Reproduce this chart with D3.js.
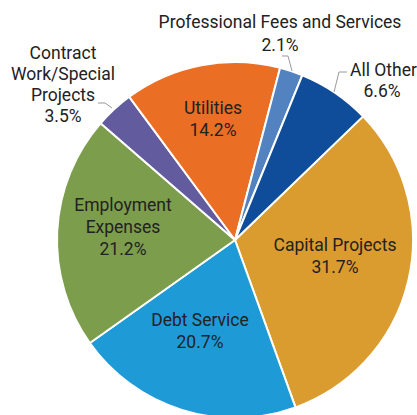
<!DOCTYPE html>
<html><head><meta charset="utf-8">
<script src="https://cdn.jsdelivr.net/npm/d3@7"></script>
<style>body{margin:0;background:#fff}svg{display:block}text{font-family:Roboto,"Noto Sans",sans-serif;fill:#222}</style>
</head><body>
<svg id="c" width="417" height="415"></svg>
<script>
const categories = ["Capital Projects","Debt Service","Employment Expenses","Contract Work/Special Projects","Utilities","Professional Fees and Services","All Other"];
const values = [31.7, 20.7, 21.2, 3.5, 14.2, 2.1, 6.6];
const labelText = [["Capital Projects"],["Debt Service"],["Employment","Expenses"],["Contract","Work/Special","Projects"],["Utilities"],["Professional Fees and Services"],["All Other"]];
const colors = ["#DA9C2F","#1E9BD7","#7C9D4B","#625C9F","#EA6E23","#5283C0","#0F4C9A"];

const svg = d3.select("#c");
const cx = 235, cy = 240, R = 178;
const g = svg.append("g").attr("transform",`translate(${cx},${cy})`);
const start = 46*Math.PI/180;
const pie = d3.pie().sort(null).value(d=>d).startAngle(start).endAngle(start+2*Math.PI);
const arcs = pie(values);
const arc = d3.arc().innerRadius(0).outerRadius(R);
g.selectAll("path.s").data(arcs).join("path").attr("class","s")
  .attr("d",arc).attr("fill",(d,i)=>colors[i]).attr("stroke","#fff").attr("stroke-width",2).attr("stroke-linejoin","round");

const fs = 17.5;
const centers = {0:[335,256],1:[200,331],2:[123,227],4:[213,119]};
const lh = 22;
Object.keys(centers).forEach(k=>{
  const i = +k;
  const [x,y] = [centers[i][0]-cx, centers[i][1]-cy];
  const lines = labelText[i].concat([values[i].toFixed(1)+"%"]);
  const t = g.append("text").attr("text-anchor","middle").attr("font-size",fs);
  const y0 = y - (lines.length-1)*lh/2;
  lines.forEach((l,j)=>t.append("tspan").attr("x",x).attr("y",y0+j*lh).attr("dy","0.35em").text(l));
});

function outLabel(i, x, y, lhh){
  const lines = labelText[i].concat([values[i].toFixed(1)+"%"]);
  const t = svg.append("text").attr("text-anchor","middle").attr("font-size",fs);
  lines.forEach((l,k)=>t.append("tspan").attr("x",x).attr("y",y+k*lhh).attr("dy","0.35em").text(l));
}
outLabel(3, 63, 53, 21);
outLabel(5, 280, 22, 23);
const ao = svg.append("text").attr("font-size",fs);
ao.append("tspan").attr("x",350).attr("y",70).attr("dy","0.35em").text(labelText[6][0]);
ao.append("tspan").attr("x",382).attr("y",91).attr("dy","0.35em").attr("text-anchor","middle").text(values[6].toFixed(1)+"%");

const leader = d3.line();
const lines = [
  [[98,103],[105,103],[112,108]],
  [[282,56],[288,56],[292,71]],
  [[347,72],[339,72],[334,92]]
];
svg.selectAll("path.l").data(lines).join("path").attr("class","l").attr("d",leader)
  .attr("fill","none").attr("stroke","#999").attr("stroke-width",1);
</script>
</body></html>
